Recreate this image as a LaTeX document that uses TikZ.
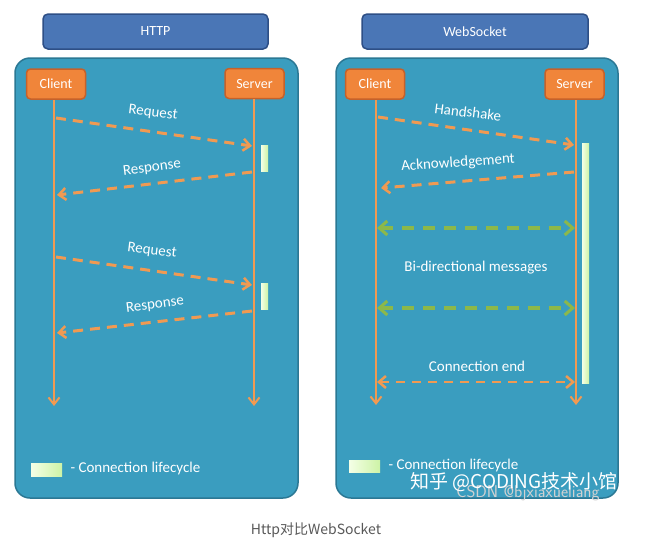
\documentclass[tikz,border=0pt]{standalone}
\usepackage{fontspec}
\setmainfont{Carlito}
\newfontfamily\cjk{Noto Sans CJK SC}
\usetikzlibrary{arrows.meta}

\definecolor{panelfill}{HTML}{3A9DBF}
\definecolor{paneldraw}{HTML}{2B7894}
\definecolor{titlefill}{HTML}{4A76B6}
\definecolor{titledraw}{HTML}{2E4F86}
\definecolor{boxfill}{HTML}{F0853A}
\definecolor{boxdraw}{HTML}{C6612A}
\definecolor{lineorange}{HTML}{F09A52}
\definecolor{msggreen}{HTML}{8CB84A}
\definecolor{barlight}{HTML}{F4FFE6}
\definecolor{bargreen}{HTML}{CDF3A6}

\tikzset{
	titlebox/.style={rounded corners=5pt, line width=1.5pt, draw=titledraw,
		fill=titlefill, text=white, font=\fontsize{14}{16}\selectfont},
	panel/.style={rounded corners=15pt, line width=1.5pt, draw=paneldraw,
		fill=panelfill},
	actor/.style={rounded corners=4pt, line width=1.5pt, draw=boxdraw,
		fill=boxfill, text=white, minimum width=59pt, minimum height=30pt,
		inner sep=0pt, font=\fontsize{14}{16}\selectfont},
	lifeline/.style={line width=2pt, draw=lineorange,
		-{Straight Barb[length=7pt, width=11pt, line width=2pt]}},
	msg/.style={line width=3pt, draw=lineorange, dash pattern=on 10pt off 7pt,
		-{Straight Barb[length=7pt, width=12pt, line width=2.5pt]}},
	duplex/.style={line width=3.5pt, draw=msggreen, dash pattern=on 12pt off 9pt,
		{Straight Barb[length=8pt, width=14pt, line width=3pt]}-{Straight Barb[length=8pt, width=14pt, line width=3pt]}},
	msglabel/.style={text=white, font=\fontsize{15}{17}\selectfont},
	lifebar/.style={left color=barlight, right color=bargreen, draw=none},
}

\begin{document}
\begin{tikzpicture}[x=1pt, y=-1pt]
	\useasboundingbox[fill=white] (0,0) rectangle (648,550);

	% Ueberschriften
	\node[titlebox, minimum width=225pt, minimum height=35pt] (httptitle) at (155.5,31.5) {HTTP};
	\node[titlebox, minimum width=226pt, minimum height=35pt] (wstitle) at (475,31.5) {WebSocket};

	% Rahmen
	\filldraw[panel] (15,58) rectangle (298,498);
	\filldraw[panel] (336,58) rectangle (618,498);

	% Teilnehmer HTTP
	\node[actor] (hclient) at (56,84) {Client};
	\node[actor] (hserver) at (254.5,83.5) {Server};
	\coordinate (hclientend) at (54,406);
	\coordinate (hserverend) at (254,406);
	\draw[lifeline] (hclient.south -| hclientend) -- (hclientend);
	\draw[lifeline] (hserver.south -| hserverend) -- (hserverend);

	% Verbindungsdauer HTTP
	\fill[lifebar] (261,145) rectangle (268,171);
	\fill[lifebar] (261,283) rectangle (268,309);

	% Nachrichten HTTP
	\coordinate (hreqa) at (56,118);
	\coordinate (hreqb) at (252,146);
	\coordinate (hresa) at (252,172);
	\coordinate (hresb) at (57,195);
	\coordinate (hreqc) at (56,257);
	\coordinate (hreqd) at (252,285);
	\coordinate (hresc) at (252,311);
	\coordinate (hresd) at (57,333);
	\draw[msg] (hreqa) -- (hreqb);
	\draw[msg] (hresa) -- (hresb);
	\draw[msg] (hreqc) -- (hreqd);
	\draw[msg] (hresc) -- (hresd);
	\node[msglabel, rotate=-7] (hreqlabel) at (153,113) {Request};
	\node[msglabel, rotate=7] (hreslabel) at (152,168) {Response};
	\node[msglabel, rotate=-7] (hreqlabelb) at (152,251) {Request};
	\node[msglabel, rotate=7] (hreslabelb) at (155,305) {Response};

	% Legende HTTP
	\fill[lifebar] (31,463) rectangle (62,476);
	\node[msglabel, anchor=west] (hlegend) at (67,468) {- Connection lifecycle};

	% Teilnehmer WebSocket
	\node[actor] (wclient) at (375,84) {Client};
	\node[actor] (wserver) at (574.5,84) {Server};
	\coordinate (wclientend) at (376,405);
	\coordinate (wserverend) at (576,405);
	\draw[lifeline] (wclient.south -| wclientend) -- (wclientend);
	\draw[lifeline] (wserver.south -| wserverend) -- (wserverend);

	% Verbindungsdauer WebSocket
	\fill[lifebar] (582,143) rectangle (589,383);

	% Nachrichten WebSocket
	\coordinate (whsa) at (378,117);
	\coordinate (whsb) at (574,145);
	\coordinate (wacka) at (574,172);
	\coordinate (wackb) at (381,188);
	\coordinate (wbia) at (377,228);
	\coordinate (wbib) at (575,228);
	\coordinate (wbic) at (377,308);
	\coordinate (wbid) at (575,308);
	\coordinate (wenda) at (377,382);
	\coordinate (wendb) at (575,382);
	\draw[msg] (whsa) -- (whsb);
	\draw[msg] (wacka) -- (wackb);
	\draw[duplex] (wbia) -- (wbib);
	\draw[duplex] (wbic) -- (wbid);
	\draw[msg, line width=2.5pt, dash pattern=on 9pt off 7pt,
		{Straight Barb[length=7pt, width=12pt, line width=2.5pt]}-{Straight Barb[length=7pt, width=12pt, line width=2.5pt]}] (wenda) -- (wendb);
	\node[msglabel, rotate=-7] (whslabel) at (468,112) {Handshake};
	\node[msglabel, rotate=4] (wacklabel) at (458,163) {Acknowledgement};
	\node[msglabel] (wbilabel) at (476,268) {Bi-directional messages};
	\node[msglabel] (wendlabel) at (477,366) {Connection end};

	% Legende WebSocket
	\fill[lifebar] (349,460) rectangle (380,472);
	\node[msglabel, anchor=west] (wlegend) at (385,465) {- Connection lifecycle};

	% Wasserzeichen
	\node[text=gray!35, font=\fontsize{17}{19}\selectfont\sffamily] (csdnmark) at (528,493) {CSDN @bjxiaxueliang};
	\node[text=white, font=\cjk\fontsize{19}{21}\selectfont] (zhihumark) at (514,482) {知乎 @CODING技术小馆};

	% Bildunterschrift
	\node[text=black!65, font=\cjk\fontsize{14}{16}\selectfont] (caption) at (316,530) {Http对比WebSocket};
\end{tikzpicture}
\end{document}
